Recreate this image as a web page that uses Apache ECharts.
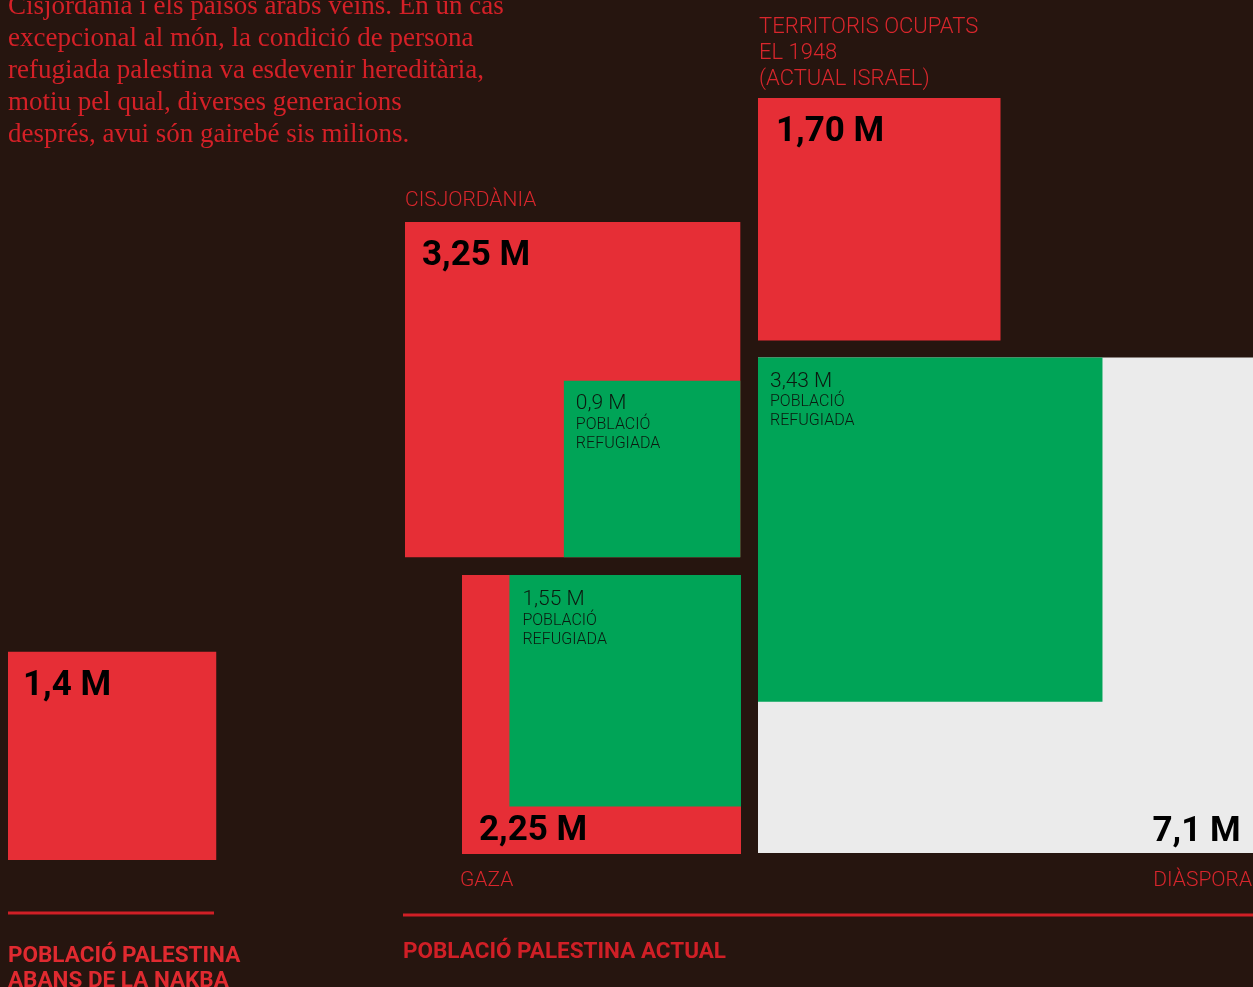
<!DOCTYPE html>
<html>
<head>
<meta charset="utf-8">
<script src="https://cdn.jsdelivr.net/npm/echarts@6/dist/echarts.min.js"></script>
<style>
html,body{margin:0;padding:0;background:#26150f;}
#chart{width:1253px;height:987px;}
</style>
</head>
<body>
<div id="chart"></div>
<script>
// ---- DATA ----
const categories = ['Abans de la Nakba', 'Cisjordània', 'Gaza', 'Territoris ocupats el 1948 (actual Israel)', 'Diàspora'];
const categoryLabels = ['', 'CISJORDÀNIA', 'GAZA', 'TERRITORIS OCUPATS\nEL 1948\n(ACTUAL ISRAEL)', 'DIÀSPORA'];
const totalPopulation = [1.4, 3.25, 2.25, 1.70, 7.1];          // milions
const totalLabels = ['1,4 M', '3,25 M', '2,25 M', '1,70 M', '7,1 M'];
const refugeePopulation = [null, 0.9, 1.55, null, 3.43];        // milions
const refugeeLabels = ['', '0,9 M', '1,55 M', '', '3,43 M'];
const refugeeCaption = 'POBLACIÓ\nREFUGIADA';
const introText = [
  'Cisjordània i els països àrabs veïns. En un cas',
  'excepcional al món, la condició de persona',
  'refugiada palestina va esdevenir hereditària,',
  'motiu pel qual, diverses generacions',
  'després, avui són gairebé sis milions.'
];
const sectionTitles = ['POBLACIÓ PALESTINA\nABANS DE LA NAKBA', 'POBLACIÓ PALESTINA ACTUAL'];

// ---- LAYOUT (positions / styles) ----
const W = 1253, H = 987;
const RED = '#e62e36', GREEN = '#00a457', GREY = '#ebebeb', BG = '#26150f', TXTRED = '#d8262c', LINERED = '#d01f26';
const DY = 3; // vertical text nudge
const sideScale = [176, 186, 186, 186, 186]; // px per sqrt(milió)
const anchors = [
  {corner: 'bl', x: 8, y: 860, fill: RED, lab: {corner: 'tl', dx: 15, dy: 31, align: 'left'}},
  {corner: 'tl', x: 405, y: 222, fill: RED, lab: {corner: 'tl', dx: 17, dy: 31, align: 'left'}, ref: 'br', refLab: {dx: 12, dy: 20}},
  {corner: 'tr', x: 741, y: 575, fill: RED, lab: {corner: 'bl', dx: 17, dy: -26, align: 'left'}, ref: 'tr', refLab: {dx: 13, dy: 22}},
  {corner: 'tl', x: 758, y: 98, fill: RED, lab: {corner: 'tl', dx: 18, dy: 31, align: 'left'}},
  {corner: 'bl', x: 758, y: 853, fill: GREY, lab: {corner: 'br', dx: -13, dy: -24, align: 'right'}, ref: 'tl', refLab: {dx: 12, dy: 21}}
];
const catLabelPos = [null,
  {x: 405, y: 198, align: 'left', size: 21},
  {x: 460, y: 878, align: 'left', size: 21},
  {x: 759, y: 24, align: 'left', size: 22},
  {x: 1252, y: 878, align: 'right', size: 21}];

function placeSquare(corner, x, y, s) {
  const x0 = corner[1] === 'r' ? x - s : x;
  const y0 = corner[0] === 'b' ? y - s : y;
  return {x0, y0, s};
}
function totalRect(i) {
  const a = anchors[i];
  return placeSquare(a.corner, a.x, a.y, Math.sqrt(totalPopulation[i]) * sideScale[i]);
}
function refugeeRect(i) {
  const p = totalRect(i);
  const a = anchors[i];
  const s = Math.sqrt(refugeePopulation[i]) * sideScale[i];
  const cx = a.ref[1] === 'r' ? p.x0 + p.s : p.x0;
  const cy = a.ref[0] === 'b' ? p.y0 + p.s : p.y0;
  return placeSquare(a.ref, cx, cy, s);
}
// y = centre of first line
function txt(text, x, y, font, fill, align, lineHeight) {
  const n = String(text).split('\n').length;
  const lh = lineHeight || 20;
  const yc = y + DY + (n - 1) * lh / 2;
  return {type: 'text', style: {text, x, y: yc, font, fill, align: align || 'left', verticalAlign: 'middle', textAlign: align || 'left', textVerticalAlign: 'middle', lineHeight: lh}};
}

const totalData = totalPopulation.map((v, i) => [i, v]);
const refugeeData = [];
refugeePopulation.forEach((v, i) => { if (v != null) refugeeData.push([i, v]); });

const chart = echarts.init(document.getElementById('chart'));
chart.setOption({
  backgroundColor: BG,
  animation: false,
  grid: {left: 0, right: 0, top: 0, bottom: 0},
  xAxis: {type: 'value', min: 0, max: W, show: false},
  yAxis: {type: 'value', min: 0, max: H, inverse: true, show: false},
  series: [
    {
      type: 'custom',
      coordinateSystem: 'cartesian2d',
      data: totalData,
      z: 1,
      renderItem: function (params, api) {
        const i = api.value(0);
        const r = totalRect(i);
        const p = api.coord([r.x0, r.y0]);
        const sz = api.size([r.s, r.s]);
        const a = anchors[i];
        const lx = (a.lab.corner[1] === 'r' ? p[0] + sz[0] : p[0]) + a.lab.dx;
        const ly = (a.lab.corner[0] === 'b' ? p[1] + sz[1] : p[1]) + a.lab.dy;
        return {
          type: 'group',
          children: [
            {type: 'rect', shape: {x: p[0], y: p[1], width: sz[0], height: sz[1]}, style: {fill: a.fill}},
            txt(totalLabels[i], lx, ly, 'bold 35px Roboto', '#000', a.lab.align)
          ]
        };
      }
    },
    {
      type: 'custom',
      coordinateSystem: 'cartesian2d',
      data: refugeeData,
      z: 2,
      renderItem: function (params, api) {
        const i = api.value(0);
        const r = refugeeRect(i);
        const p = api.coord([r.x0, r.y0]);
        const sz = api.size([r.s, r.s]);
        const a = anchors[i];
        const lx = p[0] + a.refLab.dx;
        const ly = p[1] + a.refLab.dy;
        return {
          type: 'group',
          children: [
            {type: 'rect', shape: {x: p[0], y: p[1], width: sz[0], height: sz[1]}, style: {fill: GREEN}},
            txt(refugeeLabels[i], lx, ly, '300 21px Roboto', '#0b1a10', 'left'),
            txt(refugeeCaption, lx, ly + 21, '300 16px Roboto', '#0b1a10', 'left', 19)
          ]
        };
      }
    }
  ],
  graphic: [
    txt(introText.join('\n'), 8, 4, '27px "Liberation Serif"', '#d42027', 'left', 32),
    ...catLabelPos.map((c, i) => c ? txt(categoryLabels[i], c.x, c.y, '300 ' + c.size + 'px Roboto', TXTRED, c.align, 26) : null).filter(Boolean),
    {type: 'line', shape: {x1: 8, y1: 913, x2: 214, y2: 913}, style: {stroke: LINERED, lineWidth: 3}},
    {type: 'line', shape: {x1: 403, y1: 915, x2: 1253, y2: 915}, style: {stroke: LINERED, lineWidth: 3}},
    txt(sectionTitles[0], 8, 953, 'bold 22.5px Roboto', '#e02a30', 'left', 25),
    txt(sectionTitles[1], 403, 949, 'bold 22.5px Roboto', LINERED, 'left')
  ]
});
</script>
</body>
</html>
